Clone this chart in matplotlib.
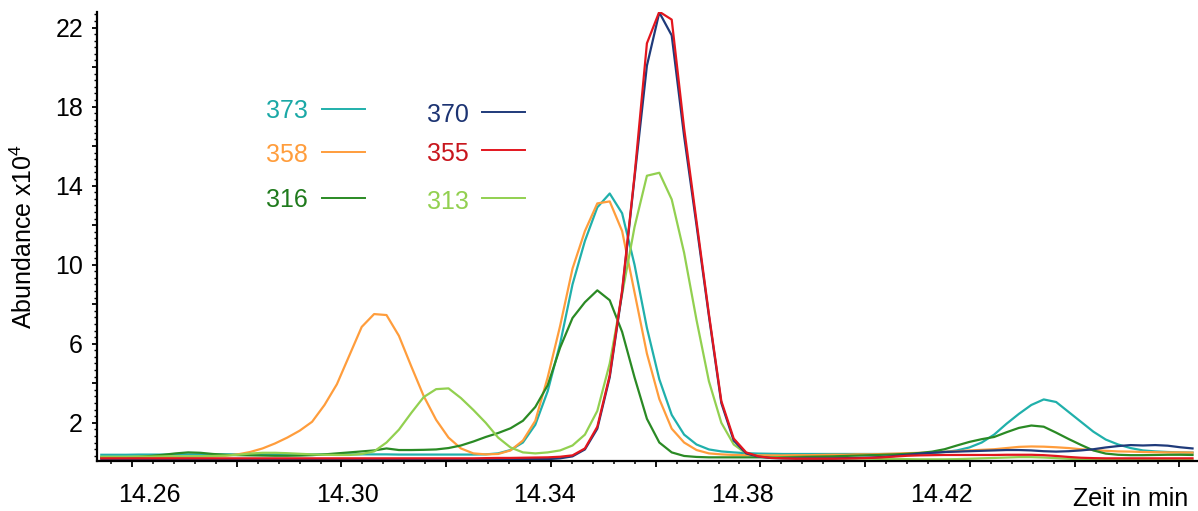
import numpy as np
import matplotlib
matplotlib.use("Agg")
import matplotlib.pyplot as plt
from matplotlib.ticker import FixedLocator, MultipleLocator
from matplotlib.lines import Line2D
from matplotlib.transforms import ScaledTranslation

plt.rcParams["font.family"] = ["Liberation Sans", "DejaVu Sans"]
plt.rcParams["mathtext.fontset"] = "custom"
plt.rcParams["mathtext.rm"] = "Liberation Sans"

# scan times (min): regular detector sampling
scan_start = 14.25414
scan_step = 0.0023678
n_scans = 89
times = scan_start + scan_step * np.arange(n_scans)

# abundances (x10^4), one value per scan
ion_373 = [0.38, 0.38, 0.38, 0.39, 0.39, 0.39, 0.40, 0.40, 0.40, 0.40,
           0.40, 0.40, 0.40, 0.40, 0.40, 0.40, 0.40, 0.40, 0.40, 0.40,
           0.40, 0.40, 0.40, 0.40, 0.39, 0.39, 0.39, 0.39, 0.39, 0.39,
           0.39, 0.40, 0.45, 0.62, 1.00, 1.90, 3.60, 6.00, 9.00, 11.20,
           12.90, 13.60, 12.60, 10.00, 6.80, 4.20, 2.40, 1.40, 0.90, 0.65,
           0.55, 0.50, 0.46, 0.44, 0.43, 0.42, 0.42, 0.42, 0.42, 0.42,
           0.42, 0.42, 0.42, 0.42, 0.42, 0.42, 0.44, 0.48, 0.52, 0.60,
           0.75, 1.00, 1.40, 1.95, 2.45, 2.90, 3.18, 3.05, 2.55, 2.05,
           1.55, 1.15, 0.90, 0.72, 0.60, 0.55, 0.52, 0.50, 0.49]

ion_358 = [0.25, 0.25, 0.26, 0.26, 0.27, 0.27, 0.28, 0.28, 0.29, 0.30,
           0.33, 0.40, 0.52, 0.70, 0.95, 1.25, 1.60, 2.05, 2.90, 3.95,
           5.40, 6.85, 7.50, 7.45, 6.40, 4.85, 3.35, 2.15, 1.25, 0.70,
           0.45, 0.40, 0.42, 0.60, 1.10, 2.10, 4.30, 6.90, 9.80, 11.70,
           13.10, 13.20, 11.70, 8.60, 5.50, 3.20, 1.70, 1.00, 0.62, 0.45,
           0.40, 0.37, 0.36, 0.35, 0.35, 0.35, 0.36, 0.36, 0.37, 0.38,
           0.38, 0.40, 0.40, 0.42, 0.44, 0.46, 0.48, 0.50, 0.53, 0.56,
           0.60, 0.63, 0.66, 0.72, 0.78, 0.80, 0.79, 0.76, 0.72, 0.66,
           0.62, 0.58, 0.55, 0.54, 0.52, 0.51, 0.50, 0.50, 0.49]

ion_316 = [0.25, 0.25, 0.26, 0.28, 0.32, 0.38, 0.45, 0.50, 0.48, 0.42,
           0.38, 0.36, 0.35, 0.34, 0.33, 0.33, 0.34, 0.36, 0.40, 0.45,
           0.50, 0.55, 0.60, 0.70, 0.62, 0.62, 0.63, 0.65, 0.72, 0.85,
           1.05, 1.28, 1.48, 1.72, 2.10, 2.80, 3.90, 5.80, 7.30, 8.10,
           8.70, 8.20, 6.60, 4.30, 2.20, 1.00, 0.50, 0.32, 0.27, 0.25,
           0.25, 0.25, 0.25, 0.25, 0.26, 0.26, 0.27, 0.28, 0.29, 0.30,
           0.32, 0.34, 0.36, 0.38, 0.40, 0.43, 0.47, 0.54, 0.66, 0.85,
           1.03, 1.17, 1.28, 1.52, 1.74, 1.86, 1.80, 1.50, 1.18, 0.88,
           0.60, 0.44, 0.38, 0.36, 0.36, 0.37, 0.38, 0.38, 0.37]

ion_370 = [0.15, 0.15, 0.15, 0.15, 0.15, 0.15, 0.15, 0.15, 0.15, 0.15,
           0.15, 0.15, 0.15, 0.15, 0.15, 0.15, 0.15, 0.15, 0.15, 0.15,
           0.15, 0.15, 0.15, 0.15, 0.15, 0.15, 0.15, 0.15, 0.15, 0.15,
           0.15, 0.16, 0.16, 0.16, 0.16, 0.16, 0.16, 0.20, 0.30, 0.65,
           1.70, 4.30, 8.60, 14.40, 20.07, 22.76, 21.60, 16.50, 12.00, 7.40,
           3.00, 1.10, 0.45, 0.28, 0.22, 0.20, 0.20, 0.20, 0.20, 0.20,
           0.21, 0.22, 0.24, 0.27, 0.32, 0.38, 0.44, 0.48, 0.52, 0.54,
           0.56, 0.58, 0.60, 0.62, 0.62, 0.60, 0.56, 0.54, 0.56, 0.60,
           0.66, 0.75, 0.82, 0.87, 0.85, 0.87, 0.84, 0.76, 0.70]

ion_355 = [0.20, 0.20, 0.20, 0.20, 0.20, 0.20, 0.20, 0.20, 0.20, 0.20,
           0.20, 0.20, 0.20, 0.20, 0.20, 0.20, 0.20, 0.20, 0.20, 0.20,
           0.20, 0.20, 0.20, 0.20, 0.20, 0.20, 0.20, 0.20, 0.20, 0.20,
           0.20, 0.21, 0.22, 0.22, 0.23, 0.24, 0.25, 0.28, 0.35, 0.70,
           1.80, 4.40, 8.70, 14.50, 21.20, 22.80, 22.40, 16.90, 12.20, 7.50,
           3.10, 1.20, 0.50, 0.30, 0.22, 0.20, 0.18, 0.18, 0.18, 0.18,
           0.19, 0.20, 0.22, 0.25, 0.29, 0.33, 0.35, 0.36, 0.37, 0.37,
           0.37, 0.37, 0.37, 0.38, 0.38, 0.38, 0.36, 0.32, 0.27, 0.23,
           0.21, 0.20, 0.20, 0.20, 0.20, 0.20, 0.20, 0.20, 0.20]

ion_313 = [0.28, 0.28, 0.28, 0.29, 0.29, 0.30, 0.30, 0.30, 0.31, 0.32,
           0.34, 0.38, 0.44, 0.48, 0.48, 0.46, 0.43, 0.40, 0.38, 0.37,
           0.37, 0.42, 0.55, 1.00, 1.65, 2.50, 3.30, 3.70, 3.74, 3.25,
           2.65, 2.00, 1.25, 0.75, 0.50, 0.45, 0.50, 0.60, 0.85, 1.40,
           2.60, 5.00, 8.50, 11.90, 14.50, 14.65, 13.30, 10.60, 7.20, 4.10,
           2.00, 0.90, 0.45, 0.30, 0.25, 0.23, 0.22, 0.21, 0.20, 0.20,
           0.19, 0.19, 0.18, 0.17, 0.16, 0.16, 0.15, 0.15, 0.15, 0.16,
           0.18, 0.20, 0.22, 0.24, 0.26, 0.26, 0.24, 0.21, 0.18, 0.15,
           0.13, 0.12, 0.12, 0.12, 0.12, 0.12, 0.12, 0.12, 0.12]

x_ticks = [14.26, 14.28, 14.30, 14.32, 14.34, 14.36, 14.38, 14.40, 14.42, 14.44, 14.46]
x_tick_labels = ["14.26", "", "14.30", "", "14.34", "", "14.38", "", "14.42", "", ""]
y_ticks = [2, 4, 6, 8, 10, 12, 14, 16, 18, 20, 22]
y_tick_labels = ["2", "", "6", "", "10", "", "14", "", "18", "", "22"]

series = [
    ("373", ion_373, "#20b0ab", "#1aa8a6"),
    ("358", ion_358, "#ff9d3c", "#ff9d3c"),
    ("316", ion_316, "#2a8a24", "#1f7a1c"),
    ("313", ion_313, "#92d050", "#92d050"),
    ("370", ion_370, "#1f3a7a", "#1c3372"),
    ("355", ion_355, "#e3161e", "#c8161d"),
]

W, H = 1198, 511
fig = plt.figure(figsize=(W / 100, H / 100), dpi=100)
ax = fig.add_axes([97 / W, 1 - 460.7 / H, 1 - 97 / W, (460.7 - 11.7) / H])

for name, vals, color, _ in series:
    ax.plot(times, vals, color=color, lw=1.6, solid_joinstyle="round")

ax.set_xlim(14.25332, 14.46355)
ax.set_ylim(0.08, 22.8)

for s in ["top", "right"]:
    ax.spines[s].set_visible(False)
for s in ["left", "bottom"]:
    ax.spines[s].set_linewidth(1.6)

ax.xaxis.set_major_locator(FixedLocator(x_ticks))
ax.set_xticklabels(x_tick_labels)
ax.xaxis.set_minor_locator(MultipleLocator(0.004))
ax.yaxis.set_major_locator(FixedLocator(y_ticks))
ax.set_yticklabels(y_tick_labels)
ax.yaxis.set_minor_locator(MultipleLocator(1 / 3))

ax.tick_params(axis="x", which="major", direction="out", length=4.5, width=1.3,
               labelsize=18, pad=11.5)
ax.tick_params(axis="x", which="minor", direction="out", length=2.5, width=1.1)
ax.tick_params(axis="y", which="major", direction="out", length=3.5, width=1.3,
               labelsize=18, pad=6.5)
ax.tick_params(axis="y", which="minor", direction="out", length=2.0, width=1.0)

# the time labels in the original sit a little off their ticks (pixels)
label_shift = [17, 0, 6, 0, -6, 0, -18, 0, -28, 0, 0]
for lab, dx in zip(ax.get_xticklabels(), label_shift):
    lab.set_transform(lab.get_transform() + ScaledTranslation(dx / 100, 0, fig.dpi_scale_trans))

fig.text(24 / W, 1 - 236 / H, "Abundance x10$^{4}$", rotation=90,
         ha="center", va="center", fontsize=18)
fig.text(1188 / W, 1 - 506 / H, "Zeit in min", ha="right", va="baseline",
         fontsize=18)

# hand-placed legend: label left of a short line, two columns
legend_layout = {
    "373": (287, 109.3, 322, 365, 109),
    "358": (287, 152.7, 322, 365, 152),
    "316": (287, 198.3, 322, 365, 198),
    "370": (448, 112.7, 482, 525, 112),
    "355": (448, 151.7, 482, 525, 150),
    "313": (448, 200.0, 482, 525, 198),
}
for name, vals, color, tcolor in series:
    tx, ty, x0, x1, ly = legend_layout[name]
    fig.text(tx / W, 1 - (ty + 9) / H, name, color=tcolor, fontsize=18,
             ha="center", va="baseline")
    fig.add_artist(Line2D([x0 / W, x1 / W], [1 - ly / H, 1 - ly / H],
                          transform=fig.transFigure, color=color, lw=1.4))

fig.savefig("out.png", dpi=100)
